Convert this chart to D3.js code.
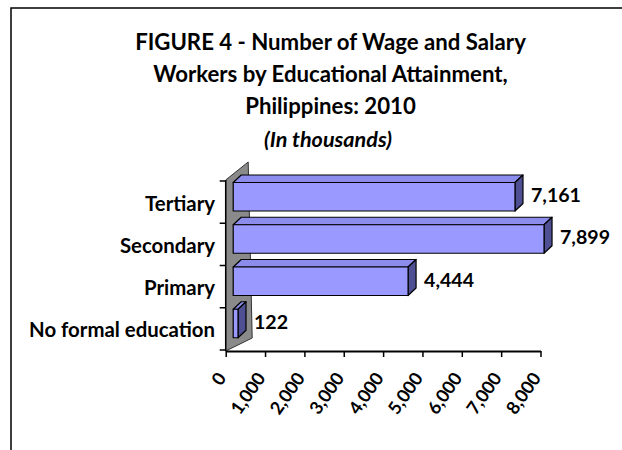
<!DOCTYPE html>
<html>
<head>
<meta charset="utf-8">
<script src="https://cdn.jsdelivr.net/npm/d3@7/dist/d3.min.js"></script>
<style>
  html, body { margin: 0; padding: 0; background: #fff; }
  svg { display: block; }
</style>
</head>
<body>
<svg id="chart" width="622" height="450"></svg>
<script>
// ---- data ----
const categories = ["Tertiary", "Secondary", "Primary", "No formal education"];
const values = [7161, 7899, 4444, 122];
const xTicks = [0, 1000, 2000, 3000, 4000, 5000, 6000, 7000, 8000];
const titleLines = [
  "FIGURE 4 - Number of Wage and Salary",
  "Workers by Educational Attainment,",
  "Philippines: 2010"
];
const subtitle = "(In thousands)";

// ---- setup ----
const FONT = "Lato, 'Open Sans', 'DejaVu Sans', sans-serif";
const svg = d3.select("#chart");

function fit(text, style, target) {
  const t = svg.append("text")
    .attr("font-family", FONT).attr("font-weight", "bold")
    .attr("font-style", style).attr("font-size", 100).text(text);
  const w = t.node().getComputedTextLength();
  t.remove();
  return 100 * target / w;
}

const titleSize = fit(titleLines[0], "normal", 391);
const subSize = fit(subtitle, "italic", 128);
const catSize = fit("No formal education", "normal", 186);
const valSize = fit("7,161", "normal", 50);
const tickSize = fit("1,000", "normal", 46);

// frame
svg.append("rect")
  .attr("x", 11).attr("y", 8).attr("width", 700).attr("height", 500)
  .attr("fill", "none").attr("stroke", "#000").attr("stroke-width", 1.5);

// title
const title = svg.append("g")
  .attr("font-family", FONT).attr("font-weight", "bold")
  .attr("text-anchor", "middle").attr("fill", "#000");
titleLines.forEach((s, i) => {
  title.append("text").attr("x", 330.5).attr("y", 50 + i * 32)
    .attr("font-size", titleSize).text(s);
});
title.append("text").attr("x", 328).attr("y", 146.5)
  .attr("font-size", subSize).attr("font-style", "italic").text(subtitle);

// scales
const x = d3.scaleLinear().domain([0, 8000]).range([225.7, 540.5]);
const y = d3.scaleBand().domain(categories).range([181, 350]).padding(0);

const barShift = 7.5;          // bar front face offset from floor front edge
const depth = { dx: 8, dy: -7.5 };
const barInset = 1.5, barH = 28.5;

// back wall (3D side wall)
const x0 = x(0);
const wall = [
  [x0, 180], [x0 + 22.5, 162], [x0 + 26.5, 338], [x0, 351]
];
svg.append("path")
  .attr("d", d3.line()(wall) + "Z")
  .attr("fill", "#8a8a8a").attr("stroke", "#333").attr("stroke-width", 1);

// bars
const bars = svg.append("g").attr("stroke", "#000").attr("stroke-width", 1.2)
  .attr("stroke-linejoin", "round");
categories.forEach((c, i) => {
  const v = values[i];
  const xl = x(0) + barShift, xr = x(v) + barShift;
  const yt = y(c) + barInset, yb = yt + barH;
  // top face
  bars.append("path")
    .attr("d", d3.line()([[xl, yt], [xl + depth.dx, yt + depth.dy],
      [xr + depth.dx, yt + depth.dy], [xr, yt]]) + "Z")
    .attr("fill", "#8c8cec");
  // end face
  bars.append("path")
    .attr("d", d3.line()([[xr, yt], [xr + depth.dx, yt + depth.dy],
      [xr + depth.dx, yb + depth.dy], [xr, yb]]) + "Z")
    .attr("fill", "#4f4f93");
  // front face
  bars.append("rect")
    .attr("x", xl).attr("y", yt).attr("width", xr - xl).attr("height", barH)
    .attr("fill", "#9999ff");
});

// value labels
const fmt = d3.format(",");
svg.append("g")
  .attr("font-family", FONT).attr("font-weight", "bold")
  .attr("font-size", valSize).attr("fill", "#000")
  .selectAll("text").data(categories).join("text")
  .attr("x", (c, i) => x(values[i]) + barShift + depth.dx + 8)
  .attr("y", c => y(c) + barInset + barH / 2 - 1 + 6.3)
  .text((c, i) => fmt(values[i]));

// y axis: front edge line + ticks
const yAxis = svg.append("g").attr("stroke", "#000").attr("stroke-width", 1.5);
yAxis.append("line").attr("x1", x0).attr("x2", x0).attr("y1", 180).attr("y2", 351);
const bounds = categories.map(c => y(c)).concat([y.range()[1]]);
yAxis.selectAll("line.tick").data(bounds).join("line").attr("class", "tick")
  .attr("x1", x0 - 6).attr("x2", x0).attr("y1", d => d).attr("y2", d => d);

// category labels
svg.append("g")
  .attr("font-family", FONT).attr("font-weight", "bold")
  .attr("font-size", catSize).attr("text-anchor", "end").attr("fill", "#000")
  .selectAll("text").data(categories).join("text")
  .attr("x", 215).attr("y", c => y(c) + y.bandwidth() / 2 + 8.4)
  .text(c => c);

// x axis
const xAxis = svg.append("g").attr("transform", "translate(0,351)")
  .call(d3.axisBottom(x).tickValues(xTicks).tickFormat(fmt).tickSize(6).tickSizeOuter(0));
xAxis.select(".domain").attr("stroke", "#000").attr("stroke-width", 1.8);
xAxis.selectAll(".tick line").attr("stroke", "#000").attr("stroke-width", 1.5);
xAxis.selectAll(".tick text")
  .attr("font-family", FONT).attr("font-weight", "bold").attr("font-size", tickSize)
  .attr("fill", "#000").attr("text-anchor", "end")
  .attr("y", 0).attr("dy", "0.35em")
  .attr("transform", "translate(-4.4,23.5) rotate(-55)");
</script>
</body>
</html>
